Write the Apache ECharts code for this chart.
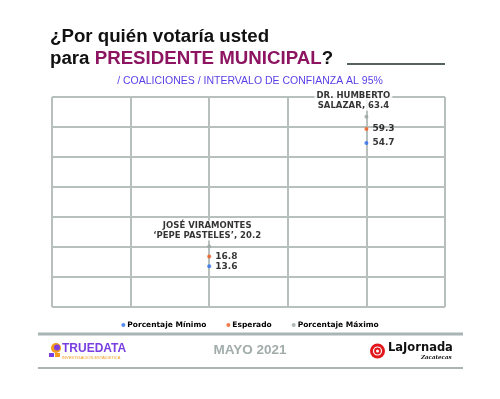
<!DOCTYPE html>
<html>
<head>
<meta charset="utf-8">
<script src="https://cdn.jsdelivr.net/npm/echarts@6/dist/echarts.min.js"></script>
<style>
  html, body { margin: 0; padding: 0; background: #fff; }
  #chart { width: 500px; height: 399px; }
</style>
</head>
<body>
<div id="chart"></div>
<script>
// datos de la encuesta
var candidatos = ['JOSÉ VIRAMONTES\n‘PEPE PASTELES’', 'DR. HUMBERTO\nSALAZAR'];
var posicion = [2, 4];
var minimo = [13.6, 54.7];
var esperado = [16.8, 59.3];
var maximo = [20.2, 63.4];
var series_nombres = ['Porcentaje Mínimo', 'Esperado', 'Porcentaje Máximo'];
var colores = ['#2a6ef0', '#f0591c', '#9aa5a3'];
// desplazamiento de la etiqueta de cada candidato (solo estilo)
var desplaza = [[-2, 0], [-13, 0]];

var chart = echarts.init(document.getElementById('chart'), null, {renderer: 'canvas'});

function puntos(vals) {
    return vals.map(function (v, i) { return [posicion[i], v]; });
}

var lblNum = {
    show: true, position: 'right', distance: 4,
    fontFamily: 'DejaVu Sans', fontWeight: 'bold', fontSize: 9, color: '#000'
};

var option = {
    backgroundColor: '#fff',
    animation: false,
    grid: {left: 52, right: 55, top: 97, bottom: 92},
    xAxis: {
        type: 'value', min: 0, max: 5, interval: 1,
        axisLine: {show: false}, axisTick: {show: false}, axisLabel: {show: false},
        splitLine: {show: true, lineStyle: {color: '#b8c0be', width: 2}}
    },
    yAxis: {
        type: 'value', min: 0, max: 70, interval: 10,
        axisLine: {show: false}, axisTick: {show: false}, axisLabel: {show: false},
        splitLine: {show: true, lineStyle: {color: '#b8c0be', width: 2}}
    },
    legend: {
        data: series_nombres,
        top: 316, left: 'center',
        icon: 'circle', itemWidth: 4, itemHeight: 4, itemGap: 20,
        textStyle: {fontFamily: 'DejaVu Sans', fontWeight: 'bold', fontSize: 7.5, color: '#000', padding: [0, 0, 0, -3]}
    },
    series: [
        {
            name: series_nombres[0], type: 'scatter', symbolSize: 4,
            itemStyle: {color: colores[0]},
            data: puntos(minimo),
            label: Object.assign({}, lblNum, {formatter: function (p) { return p.value[1].toFixed(1); }})
        },
        {
            name: series_nombres[1], type: 'scatter', symbolSize: 4,
            itemStyle: {color: colores[1]},
            data: puntos(esperado),
            label: Object.assign({}, lblNum, {formatter: function (p) { return p.value[1].toFixed(1); }})
        },
        {
            name: series_nombres[2], type: 'scatter', symbolSize: 4,
            itemStyle: {color: colores[2]},
            data: puntos(maximo).map(function (d, i) {
                return {value: d, label: {offset: desplaza[i]}};
            }),
            label: {
                show: true, position: 'top', distance: 4, align: 'center',
                fontFamily: 'DejaVu Sans', fontWeight: 'bold', fontSize: 8.5, lineHeight: 10,
                color: '#000', backgroundColor: '#fff', padding: [0, 2],
                formatter: function (p) {
                    return candidatos[p.dataIndex] + ', ' + p.value[1].toFixed(1);
                }
            }
        }
    ],
    graphic: [
        {
            type: 'text', left: 50, top: 27,
            style: {text: '¿Por quién votaría usted', fontFamily: 'Liberation Sans', fontWeight: 'bold', fontSize: 18.7, fill: '#111'}
        },
        {
            type: 'text', left: 50, top: 49,
            style: {
                text: '{a|para }{b|PRESIDENTE MUNICIPAL}{a|?}',
                rich: {
                    a: {fontFamily: 'Liberation Sans', fontWeight: 'bold', fontSize: 18.7, fill: '#111', color: '#111'},
                    b: {fontFamily: 'Liberation Sans', fontWeight: 'bold', fontSize: 18.7, fill: '#8c1461', color: '#8c1461'}
                }
            }
        },
        {
            type: 'line', shape: {x1: 347, y1: 64, x2: 445, y2: 64},
            style: {stroke: '#55625f', lineWidth: 2}
        },
        {
            type: 'text', left: 'center', top: 76,
            style: {text: '/ COALICIONES / INTERVALO DE CONFIANZA AL 95%', fontFamily: 'Liberation Sans', fontSize: 10.5, fill: '#5b3fe6'}
        },
        {
            type: 'line', shape: {x1: 38, y1: 334, x2: 463, y2: 334},
            style: {stroke: '#a9b5b3', lineWidth: 3}
        },
        {
            type: 'line', shape: {x1: 38, y1: 368, x2: 463, y2: 368},
            style: {stroke: '#a9b5b3', lineWidth: 2}
        },
        {
            type: 'text', left: 'center', top: 343,
            style: {text: 'MAYO 2021', fontFamily: 'Liberation Sans', fontWeight: 'bold', fontSize: 13.5, fill: '#a2adab'}
        },
        // logo TRUEDATA
        {type: 'circle', shape: {cx: 56, cy: 348, r: 5}, style: {fill: '#f59a1b'}},
        {type: 'circle', shape: {cx: 57, cy: 347.5, r: 3}, style: {fill: '#7a3fe0'}},
        {type: 'rect', shape: {x: 49, y: 353, width: 5, height: 4}, style: {fill: '#7a3fe0'}},
        {type: 'rect', shape: {x: 55, y: 353, width: 5, height: 4}, style: {fill: '#f59a1b'}},
        {
            type: 'text', left: 62, top: 343,
            style: {text: 'TRUEDATA', fontFamily: 'Liberation Sans', fontWeight: 'bold', fontSize: 12, fill: '#7a3fe0'}
        },
        {
            type: 'text', left: 62, top: 356,
            style: {text: 'INVESTIGACIÓN ESTADÍSTICA', fontFamily: 'Liberation Sans', fontSize: 4, fill: '#f59a1b'}
        },
        // logo La Jornada
        {type: 'circle', shape: {cx: 377.5, cy: 351, r: 7.5}, style: {fill: '#e3161b'}},
        {type: 'circle', shape: {cx: 377.5, cy: 351, r: 4}, style: {fill: 'none', stroke: '#fff', lineWidth: 1.2}},
        {type: 'circle', shape: {cx: 377.5, cy: 351, r: 1.5}, style: {fill: '#fff'}},
        {
            type: 'text', left: 388, top: 342,
            style: {text: 'LaJornada', fontFamily: 'DejaVu Sans', fontWeight: 'bold', fontSize: 11.5, fill: '#111'}
        },
        {
            type: 'text', left: 421, top: 355,
            style: {text: 'Zacatecas', fontFamily: 'DejaVu Serif', fontStyle: 'italic', fontWeight: 'bold', fontSize: 5.5, fill: '#111'}
        }
    ]
};

chart.setOption(option);
</script>
</body>
</html>
